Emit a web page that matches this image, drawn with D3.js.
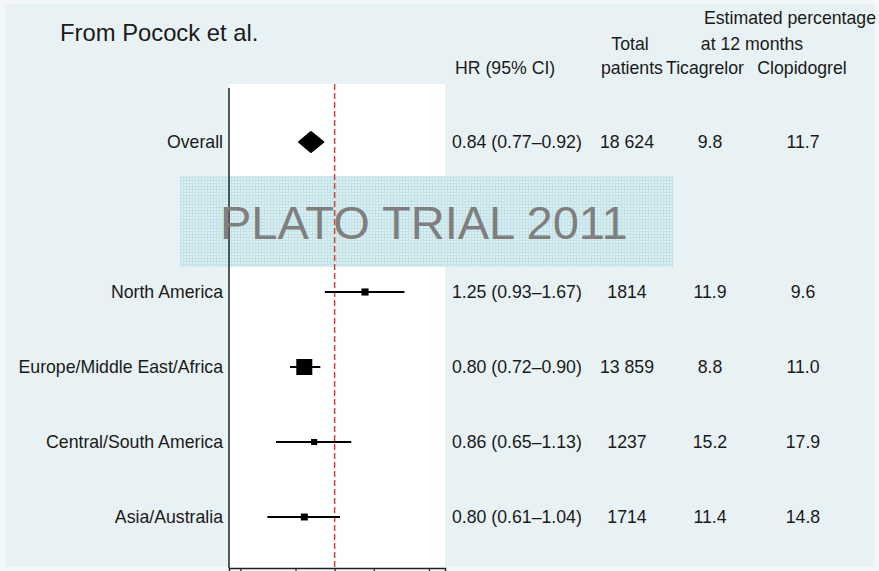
<!DOCTYPE html>
<html>
<head>
<meta charset="utf-8">
<script src="https://cdn.jsdelivr.net/npm/d3@7"></script>
<style>
  body { margin: 0; background: #f3f7f8; }
  svg { display: block; font-family: "Liberation Sans", Arial, sans-serif; }
</style>
</head>
<body>
<div id="forest"></div>
<script>
// data
const regions = ["Overall", "North America", "Europe/Middle East/Africa", "Central/South America", "Asia/Australia"];
const rowIndex = [0, 2, 3, 4, 5];
const hr = [0.84, 1.25, 0.80, 0.86, 0.80];
const ciLow = [0.77, 0.93, 0.72, 0.65, 0.61];
const ciHigh = [0.92, 1.67, 0.90, 1.13, 1.04];
const patients = [18624, 1814, 13859, 1237, 1714];
const ticagrelor = [9.8, 11.9, 8.8, 15.2, 11.4];
const clopidogrel = [11.7, 9.6, 11.0, 17.9, 14.8];
const hrTicks = [0.5, 0.75, 1, 1.333, 2];

const width = 879, height = 571;
const fs = 17.7;

const data = regions.map((r, i) => ({
    region: r, row: rowIndex[i], hr: hr[i], lo: ciLow[i], hi: ciHigh[i],
    n: patients[i], tica: ticagrelor[i], clop: clopidogrel[i]
}));

const svg = d3.select("#forest")
    .append("svg")
    .attr("width", width)
    .attr("height", height);

// pattern for the watermark band
const pat = svg.append("defs").append("pattern")
    .attr("id", "grid")
    .attr("width", 3).attr("height", 3)
    .attr("patternUnits", "userSpaceOnUse");
pat.append("rect").attr("width", 3).attr("height", 3).attr("fill", "#dbeff2");
pat.append("path").attr("d", "M0,0.5H3M0.5,0V3").attr("stroke", "#c3e2e7").attr("stroke-width", 1);

// scales
const x = d3.scaleLog().domain([0.46, 2.25]).range([229, 445]);
const y = d3.scaleLinear().domain([0, 5]).range([142, 517]);
const size = d3.scalePow().exponent(0.4).domain([0, 13859]).range([0, 16]);

//background + white plot panel
svg.append("rect")
    .attr("x", 5).attr("y", 4)
    .attr("width", width - 10).attr("height", height - 8)
    .attr("fill", "#e8f1f3");
svg.append("rect")
    .attr("x", x.range()[0]).attr("y", 84)
    .attr("width", x.range()[1] - x.range()[0]).attr("height", 484)
    .attr("fill", "#ffffff");

//watermark band
svg.append("rect")
    .attr("x", 180).attr("y", 176)
    .attr("width", 493).attr("height", 91)
    .attr("fill", "url(#grid)");

//reference line at HR = 1
svg.append("line")
    .attr("x1", x(1)).attr("x2", x(1))
    .attr("y1", 84).attr("y2", 568)
    .attr("stroke", "#d0463f")
    .attr("stroke-width", 1.5)
    .attr("stroke-dasharray", "6,3");

//axes
svg.append("line")
    .attr("x1", x.range()[0]).attr("x2", x.range()[0])
    .attr("y1", 88).attr("y2", 568)
    .attr("stroke", "#222").attr("stroke-width", 1.5);

const xAxis = svg.append("g")
    .attr("transform", "translate(0,568)")
    .call(d3.axisBottom(x).tickValues(hrTicks).tickFormat("").tickSize(6));
xAxis.select(".domain").attr("stroke", "#222").attr("stroke-width", 1.5);
xAxis.selectAll(".tick line").attr("stroke", "#222").attr("stroke-width", 1.2);

//confidence intervals
const regional = data.filter(d => d.row > 0);
svg.selectAll(".ci")
    .data(regional)
    .enter()
    .append("line")
    .attr("x1", d => x(d.lo))
    .attr("x2", d => x(d.hi))
    .attr("y1", d => y(d.row))
    .attr("y2", d => y(d.row))
    .attr("stroke", "#000")
    .attr("stroke-width", 2);

//squares
svg.selectAll(".box")
    .data(regional)
    .enter()
    .append("rect")
    .attr("x", d => x(d.hr) - size(d.n) / 2)
    .attr("y", d => y(d.row) - size(d.n) / 2)
    .attr("width", d => size(d.n))
    .attr("height", d => size(d.n))
    .attr("fill", "#000");

//overall diamond
const overall = data.filter(d => d.row === 0);
svg.selectAll(".diamond")
    .data(overall)
    .enter()
    .append("path")
    .attr("d", d => `M${x(d.lo)},${y(d.row)}L${x(d.hr)},${y(d.row) - 10}L${x(d.hi)},${y(d.row)}L${x(d.hr)},${y(d.row) + 10}Z`)
    .attr("fill", "#000")
    .attr("stroke", "#000")
    .attr("stroke-linejoin", "round")
    .attr("stroke-width", 2);

//row labels
svg.selectAll(".label")
    .data(data)
    .enter()
    .append("text")
    .attr("x", 223)
    .attr("y", d => y(d.row) + 6)
    .attr("text-anchor", "end")
    .attr("font-size", fs + "px")
    .attr("fill", "#1a1a1a")
    .text(d => d.region);

//table columns
const fmt = d3.format(".2f");
const fmtN = n => n >= 10000 ? d3.format(",")(n).replace(",", " ") : String(n);
const cols = [
    {x: 452, anchor: "start", val: d => `${fmt(d.hr)} (${fmt(d.lo)}–${fmt(d.hi)})`},
    {x: 627, anchor: "middle", val: d => fmtN(d.n)},
    {x: 710, anchor: "middle", val: d => d3.format(".1f")(d.tica)},
    {x: 803, anchor: "middle", val: d => d3.format(".1f")(d.clop)}
];
cols.forEach(c => {
    svg.selectAll(null)
        .data(data)
        .enter()
        .append("text")
        .attr("x", c.x)
        .attr("y", d => y(d.row) + 6)
        .attr("text-anchor", c.anchor)
        .attr("font-size", fs + "px")
        .attr("fill", "#1a1a1a")
        .text(c.val);
});

//headers
const headers = [
    {x: 60, y: 41, a: "start", s: 23.8, t: "From Pocock et al."},
    {x: 455, y: 74, a: "start", s: fs, t: "HR (95% CI)"},
    {x: 630, y: 50, a: "middle", s: fs, t: "Total"},
    {x: 632, y: 74, a: "middle", s: fs, t: "patients"},
    {x: 790, y: 24, a: "middle", s: fs, t: "Estimated percentage"},
    {x: 752, y: 50, a: "middle", s: fs, t: "at 12 months"},
    {x: 705, y: 74, a: "middle", s: fs, t: "Ticagrelor"},
    {x: 802, y: 74, a: "middle", s: fs, t: "Clopidogrel"}
];
svg.selectAll(".hdr")
    .data(headers)
    .enter()
    .append("text")
    .attr("x", d => d.x)
    .attr("y", d => d.y)
    .attr("text-anchor", d => d.a)
    .attr("font-size", d => d.s + "px")
    .attr("fill", "#1a1a1a")
    .text(d => d.t);

//watermark text
svg.append("text")
    .attr("x", 220)
    .attr("y", 239)
    .attr("font-size", "47px")
    .attr("fill", "#7f7f7f")
    .text("PLATO TRIAL 2011");
</script>
</body>
</html>
